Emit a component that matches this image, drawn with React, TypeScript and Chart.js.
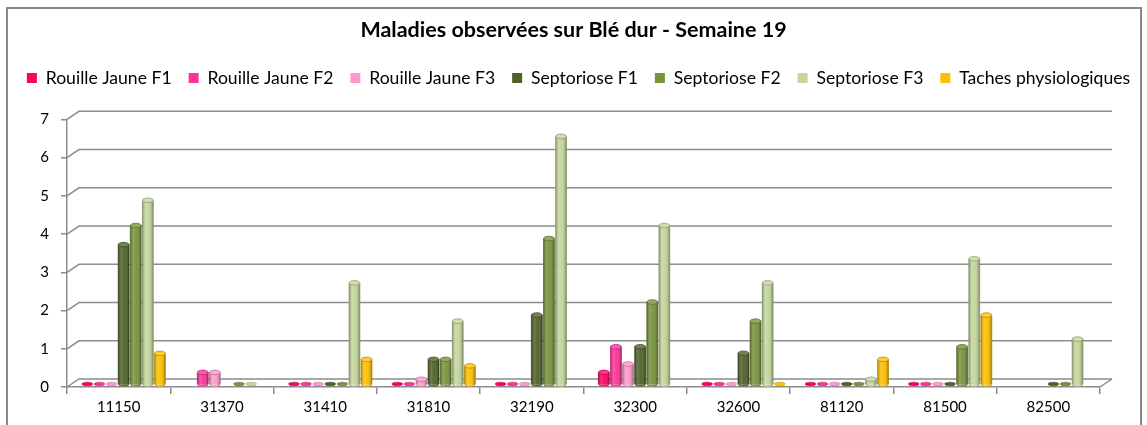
import React, { useEffect, useRef } from "react";
import { Chart, registerables } from "chart.js";

Chart.register(...registerables);

const categories = ["11150", "31370", "31410", "31810", "32190", "32300", "32600", "81120", "81500", "82500"];

const rouilleF1 = [0, null, 0, 0, 0, 0.33, 0, 0, 0, null];
const rouilleF2 = [0, 0.33, 0, 0, 0, 1.0, 0, 0, 0, null];
const rouilleF3 = [0, 0.33, 0, 0.15, 0, 0.55, 0, 0, 0, null];
const septorioseF1 = [3.67, null, 0, 0.67, 1.83, 1.0, 0.83, 0, 0, 0];
const septorioseF2 = [4.17, 0, 0, 0.67, 3.83, 2.17, 1.67, 0, 1.0, 0];
const septorioseF3 = [4.83, 0, 2.67, 1.67, 6.5, 4.17, 2.67, 0.15, 3.3, 1.2];
const tachesPhysio = [0.83, null, 0.67, 0.5, null, null, 0, 0.67, 1.83, null];

const seriesNames = [
  "Rouille Jaune F1",
  "Rouille Jaune F2",
  "Rouille Jaune F3",
  "Septoriose F1",
  "Septoriose F2",
  "Septoriose F3",
  "Taches physiologiques",
];
const seriesValues = [rouilleF1, rouilleF2, rouilleF3, septorioseF1, septorioseF2, septorioseF3, tachesPhysio];
const seriesColors = ["#FF0066", "#FF3399", "#FF99CC", "#4F6228", "#77933C", "#C3D69B", "#FFC000"];

const yTicks = [0, 1, 2, 3, 4, 5, 6, 7];
const titleText = "Maladies observées sur Blé dur - Semaine 19";

const FONT = "Lato, 'Noto Sans', sans-serif";
const GRID = "#8c8c8c";
const DX = 12;
const DY = -8;
const BAR_DX = 5;
const BAR_DY = -2;

function mix(hex: string, target: number, t: number): string {
  const n = parseInt(hex.slice(1), 16);
  const r = (n >> 16) & 255;
  const g = (n >> 8) & 255;
  const b = n & 255;
  const f = (c: number) => Math.round(c + (target - c) * t);
  return `rgb(${f(r)},${f(g)},${f(b)})`;
}

const depthPlugin = {
  id: "depth3d",
  afterLayout(chart: any) {
    if (chart.legend) {
      chart.legend.left += 5;
      chart.legend.right += 5;
    }
  },
  beforeDatasetsDraw(chart: any) {
    const { ctx, chartArea } = chart;
    const y = chart.scales.y;
    ctx.save();
    ctx.strokeStyle = GRID;
    ctx.lineWidth = 1.5;
    yTicks.forEach((v) => {
      const py = y.getPixelForValue(v);
      ctx.beginPath();
      ctx.moveTo(chartArea.left, py);
      ctx.lineTo(chartArea.left + DX, py + DY);
      ctx.lineTo(chartArea.right + DX, py + DY);
      ctx.stroke();
    });
    const p0 = y.getPixelForValue(0);
    ctx.beginPath();
    ctx.moveTo(chartArea.right, p0);
    ctx.lineTo(chartArea.right + DX, p0 + DY);
    ctx.stroke();
    ctx.restore();
    // bars sit at mid-depth of the 3D floor
    ctx.save();
    ctx.translate(BAR_DX, BAR_DY);
  },
  afterDatasetsDraw(chart: any) {
    const { ctx } = chart;
    chart.data.datasets.forEach((ds: any, di: number) => {
      const meta = chart.getDatasetMeta(di);
      const base = seriesColors[di];
      meta.data.forEach((el: any, i: number) => {
        const raw = ds.data[i];
        if (raw == null) return;
        const { x, y, base: b, width } = el.getProps(["x", "y", "base", "width"], true);
        const w = width;
        const l = x - w / 2;
        const ry = 2.3;
        ctx.save();
        if (Math.abs(b - y) < 0.5) {
          ctx.beginPath();
          ctx.ellipse(x, b - 1, w / 2, 1.8, 0, 0, Math.PI * 2);
          ctx.fillStyle = base;
          ctx.fill();
          ctx.strokeStyle = mix(base, 0, 0.2);
          ctx.lineWidth = 0.6;
          ctx.stroke();
        } else {
          const g = ctx.createLinearGradient(l, 0, l + w, 0);
          g.addColorStop(0, "rgba(0,0,0,0.32)");
          g.addColorStop(0.3, "rgba(255,255,255,0.16)");
          g.addColorStop(0.55, "rgba(255,255,255,0.03)");
          g.addColorStop(1, "rgba(0,0,0,0.38)");
          ctx.beginPath();
          ctx.ellipse(x, b, w / 2, ry, 0, 0, Math.PI);
          ctx.fillStyle = base;
          ctx.fill();
          ctx.fillStyle = g;
          ctx.fillRect(l, y, w, b - y);
          ctx.beginPath();
          ctx.ellipse(x, b, w / 2, ry, 0, 0, Math.PI);
          ctx.fill();
          ctx.strokeStyle = mix(base, 0, 0.3);
          ctx.lineWidth = 0.7;
          ctx.beginPath();
          ctx.moveTo(l, y);
          ctx.lineTo(l, b);
          ctx.moveTo(l + w, y);
          ctx.lineTo(l + w, b);
          ctx.stroke();
          ctx.beginPath();
          ctx.ellipse(x, y, w / 2, ry, 0, 0, Math.PI * 2);
          ctx.fillStyle = mix(base, 255, 0.2);
          ctx.fill();
          ctx.stroke();
        }
        ctx.restore();
      });
    });
    ctx.restore();
  },
};

export default function App() {
  const canvasRef = useRef<HTMLCanvasElement | null>(null);

  useEffect(() => {
    const canvas = canvasRef.current;
    if (!canvas) return;
    const chart = new Chart(canvas, {
      type: "bar",
      data: {
        labels: categories,
        datasets: seriesNames.map((name, i) => ({
          label: name,
          data: seriesValues[i],
          backgroundColor: seriesColors[i],
          borderWidth: 0,
          categoryPercentage: 0.82,
          barPercentage: 0.9,
        })),
      },
      options: {
        animation: false,
        responsive: false,
        devicePixelRatio: 1,
        layout: { padding: { left: 0, right: 0, top: 0, bottom: 5 } },
        plugins: {
          tooltip: { enabled: false },
          title: {
            display: true,
            text: titleText,
            color: "#000",
            font: { family: FONT, size: 21.5, weight: "bold" },
            padding: { top: 17, bottom: 9.4 },
          },
          legend: {
            display: true,
            position: "top",
            labels: {
              boxWidth: 10,
              boxHeight: 10,
              padding: 17,
              color: "#000",
              font: { family: FONT, size: 17.6 },
            },
          },
        },
        scales: {
          x: {
            grid: {
              offset: true,
              drawOnChartArea: false,
              drawTicks: true,
              tickLength: 7,
              color: GRID,
              lineWidth: 1.5,
            },
            border: { display: true, color: GRID, width: 1.5 },
            ticks: { color: "#000", font: { family: FONT, size: 15 }, padding: 4 },
          },
          xTop: {
            position: "top",
            display: true,
            afterFit: (s: any) => {
              s.height = 22.5;
            },
            grid: { display: false },
            border: { display: false },
            ticks: { display: false },
          },
          y: {
            min: 0,
            max: 7,
            afterFit: (s: any) => {
              s.width = 67;
            },
            grid: {
              drawOnChartArea: false,
              drawTicks: true,
              tickLength: 6,
              color: GRID,
              lineWidth: 1.5,
            },
            border: { display: true, color: GRID, width: 1.5 },
            ticks: {
              stepSize: 1,
              color: "#000",
              font: { family: FONT, size: 15 },
              padding: 12,
            },
          },
          yRight: {
            position: "right",
            display: true,
            afterFit: (s: any) => {
              s.width = 47;
            },
            grid: { display: false },
            border: { display: false },
            ticks: { display: false },
          },
        },
      },
      plugins: [depthPlugin],
    } as any);
    return () => chart.destroy();
  }, []);

  return (
    <div style={{ position: "absolute", left: 0, top: 0, width: 1147, height: 425, overflow: "hidden", background: "#fff" }}>
      <canvas ref={canvasRef} width={1147} height={425} style={{ position: "absolute", left: 0, top: 0, width: 1147, height: 425 }} />
      <div
        style={{
          position: "absolute",
          left: 6,
          top: 7,
          width: 1132,
          height: 440,
          border: "2px solid #888",
          pointerEvents: "none",
        }}
      />
    </div>
  );
}
